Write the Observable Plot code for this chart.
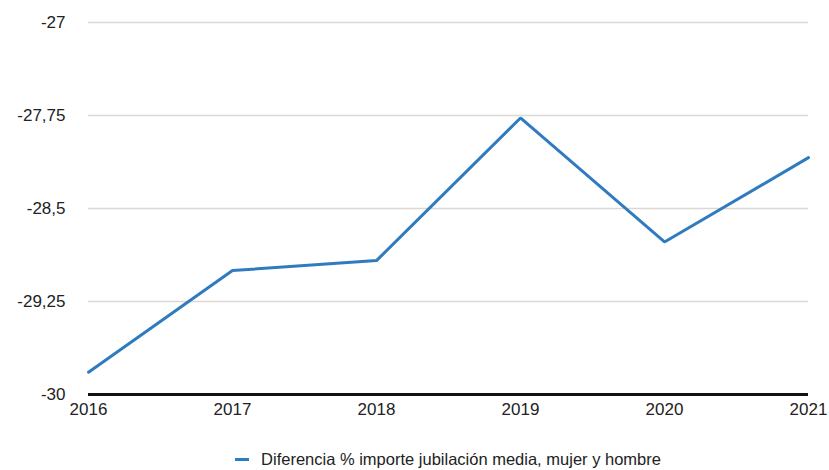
<!DOCTYPE html>
<html>
<head>
<meta charset="utf-8">
<script src="https://cdn.jsdelivr.net/npm/d3@7"></script>
<script src="https://cdn.jsdelivr.net/npm/@observablehq/plot@0.6"></script>
<style>
  html, body { margin: 0; padding: 0; background: #fff; }
  body { width: 829px; height: 470px; overflow: hidden; font-family: "Liberation Sans", Arial, sans-serif; }
  #legend { position: absolute; top: 450px; left: 88px; width: 720px; text-align: center; font-size: 16.5px; color: #222; white-space: nowrap; }
  #legend .sw { display: inline-block; width: 14px; height: 3px; background: #2f7bbf; vertical-align: middle; margin-right: 12px; position: relative; top: -1px; }
</style>
</head>
<body>
<div id="chart"></div>
<div id="legend"><span class="sw"></span>Diferencia % importe jubilación media, mujer y hombre</div>
<script>
const years = [2016, 2017, 2018, 2019, 2020, 2021];
const values = [-29.82, -29.0, -28.92, -27.77, -28.77, -28.09];
const yTicks = [-27, -27.75, -28.5, -29.25, -30];
const seriesName = "Diferencia % importe jubilación media, mujer y hombre";

const data = years.map((y, i) => ({year: y, value: values[i]}));
const fmt = v => String(v).replace(".", ",");

const chart = Plot.plot({
  width: 829,
  height: 425,
  marginLeft: 88,
  marginRight: 21,
  marginTop: 22,
  marginBottom: 31,
  style: {fontFamily: "Liberation Sans, Arial, sans-serif", fontSize: "17px", color: "#222", background: "#fff"},
  x: {domain: [2016, 2021], ticks: years, tickFormat: d => String(d), tickSize: 0, tickPadding: 8, label: null},
  y: {domain: [-30, -27], ticks: yTicks, tickFormat: fmt, tickSize: 0, tickPadding: 23, label: null},
  marks: [
    Plot.gridY(yTicks.filter(t => t !== -30), {stroke: "#ddd6d2", strokeOpacity: 1, strokeWidth: 1.5}),
    Plot.ruleY([-30], {stroke: "#111", strokeWidth: 3}),
    Plot.line(data, {x: "year", y: "value", stroke: "#2f7bbf", strokeWidth: 3, strokeLinejoin: "miter"})
  ]
});
document.getElementById("chart").appendChild(chart);
</script>
</body>
</html>
